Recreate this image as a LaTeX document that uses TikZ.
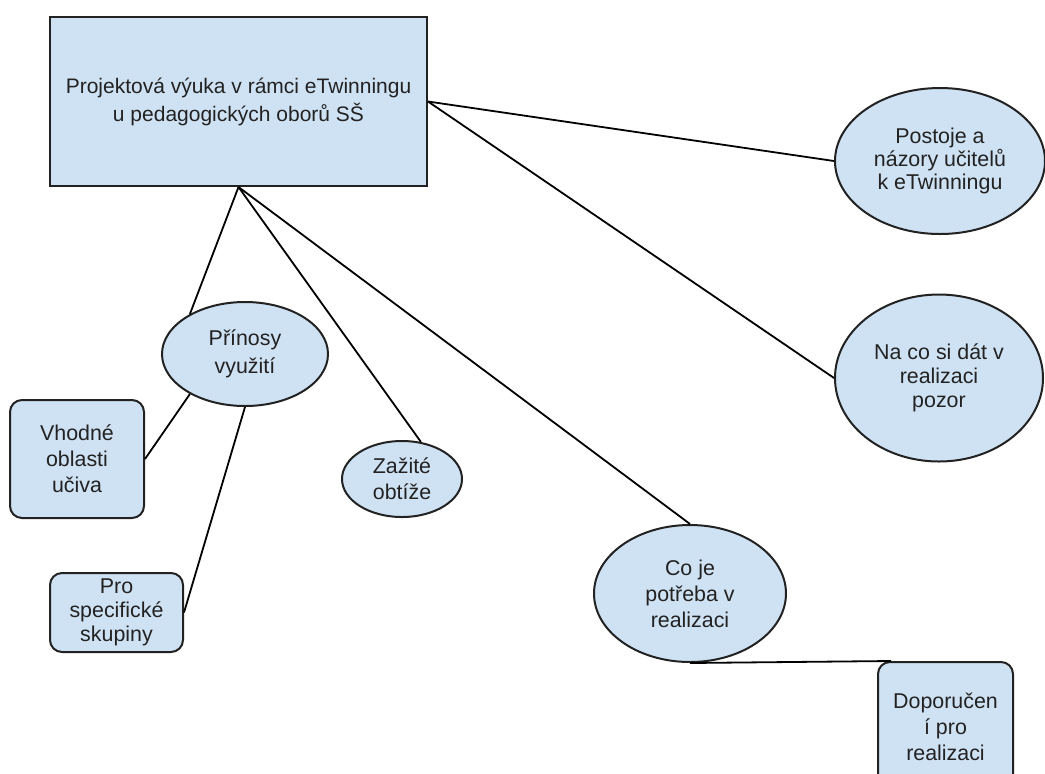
\documentclass[tikz,border=0pt]{standalone}
\usepackage{fontspec}
\setmainfont{Liberation Sans}
\usetikzlibrary{shapes.geometric}
\definecolor{mBlue}{RGB}{207,226,243}
\definecolor{mLine}{RGB}{34,34,34}

\begin{document}
\begin{tikzpicture}[
  x=0.5pt,
  y=-0.5pt,
  every node/.style={font=\fontsize{10.7}{13}\selectfont, text=mLine, align=center},
  mainbox/.style={
    draw=mLine,
    line width=1pt,
    fill=mBlue,
    inner sep=0pt,
    minimum width=188.5pt,
    minimum height=84.5pt,
    font=\fontsize{10.5}{14}\selectfont
  },
  idea/.style={
    ellipse,
    draw=mLine,
    line width=1pt,
    fill=mBlue,
    inner sep=0pt
  },
  leafbox/.style={
    draw=mLine,
    line width=1pt,
    fill=mBlue,
    rounded corners=6pt,
    inner sep=0pt
  },
  edge/.style={line width=0.9pt, draw=black}
]
  \useasboundingbox (0,0) rectangle (1045,773);

  \node[mainbox] (main) at (238.5,101.5) {Projektová výuka v rámci eTwinningu\\u pedagogických oborů SŠ};

  \node[idea, minimum width=105pt, minimum height=73pt, font=\fontsize{10.7}{11.5}\selectfont] (postoje) at (940,161) {Postoje a\\názory učitelů\\k eTwinningu};
  \node[idea, minimum width=104pt, minimum height=83.5pt, font=\fontsize{10.7}{12}\selectfont] (naco) at (939,378) {Na co si dát v\\realizaci\\pozor};
  \node[idea, minimum width=83pt, minimum height=52pt, font=\fontsize{10.7}{14}\selectfont] (prinosy) at (245,354) {Přínosy\\využití};
  \node[idea, minimum width=60pt, minimum height=38pt] (zazite) at (402,479) {Zažité\\obtíže};
  \node[idea, minimum width=96pt, minimum height=68.5pt] (coje) at (690,593.5) {Co je\\potřeba v\\realizaci};

  \node[leafbox, minimum width=67pt, minimum height=59pt] (vhodne) at (77,459) {Vhodné\\oblasti\\učiva};
  \node[leafbox, minimum width=66.5pt, minimum height=39.5pt, font=\fontsize{10.7}{12}\selectfont] (pro) at (116.5,612.5) {Pro\\specifické\\skupiny};
  \node[leafbox, minimum width=67.5pt, minimum height=65pt] (doporuceni) at (945.5,727) {Doporučen\\í pro\\realizaci};

  \draw[edge] (main.east) -- (postoje.west);
  \draw[edge] (main.east) -- (naco.west);
  \draw[edge] (main.south) -- (prinosy.144);
  \draw[edge] (main.south) -- (zazite.63);
  \draw[edge] (main.south) -- (coje.north);
  \draw[edge] (prinosy.216) -- (vhodne.east);
  \draw[edge] (prinosy.south) -- (pro.east);
  \draw[edge] (coje.south) -- ([xshift=7pt]doporuceni.north west);
\end{tikzpicture}
\end{document}
